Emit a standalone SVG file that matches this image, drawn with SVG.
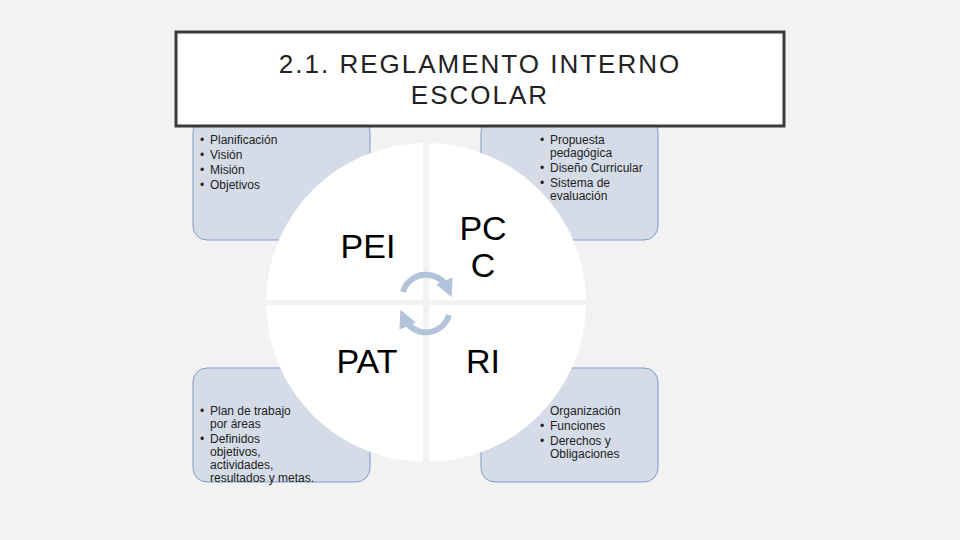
<svg xmlns="http://www.w3.org/2000/svg" width="960" height="540" viewBox="0 0 960 540">
<style>
.box{fill:#d5dce8;stroke:#7f9cc4;stroke-width:1}
.t{font-family:"Liberation Sans",Arial,sans-serif;font-size:12px;fill:#222}
.big{font-family:"Liberation Sans",Arial,sans-serif;font-size:34px;fill:#000}
.q{fill:#fff}
.arc{fill:none;stroke:#b4c3dc;stroke-width:6}
</style>
<defs><marker id="ah" viewBox="0 0 10 10" refX="5" refY="5" markerWidth="3" markerHeight="3" orient="auto"><path d="M0,0L10,5L0,10z" fill="#b4c3dc"/></marker></defs>
<rect width="960" height="540" fill="#f2f2f2"/>
<g id="box-pei"><rect class="box" x="193" y="118" width="177" height="122" rx="14"/>
<text class="t"><tspan x="200" y="144">•</tspan><tspan x="210" y="144">Planificación</tspan><tspan x="200" y="159">•</tspan><tspan x="210" y="159">Visión</tspan><tspan x="200" y="174">•</tspan><tspan x="210" y="174">Misión</tspan><tspan x="200" y="189">•</tspan><tspan x="210" y="189">Objetivos</tspan></text></g>
<g id="box-pcc"><rect class="box" x="481" y="118" width="177" height="122" rx="14"/>
<text class="t"><tspan x="540" y="144">•</tspan><tspan x="550" y="144">Propuesta</tspan><tspan x="550" y="157">pedagógica</tspan><tspan x="540" y="172">•</tspan><tspan x="550" y="172">Diseño Curricular</tspan><tspan x="540" y="187">•</tspan><tspan x="550" y="187">Sistema de</tspan><tspan x="550" y="200">evaluación</tspan></text></g>
<g id="box-pat"><rect class="box" x="193" y="368" width="177" height="114" rx="14"/>
<text class="t"><tspan x="200" y="415">•</tspan><tspan x="210" y="415">Plan de trabajo</tspan><tspan x="210" y="428">por áreas</tspan><tspan x="200" y="443">•</tspan><tspan x="210" y="443">Definidos</tspan><tspan x="210" y="456">objetivos,</tspan><tspan x="210" y="469">actividades,</tspan><tspan x="210" y="482">resultados y metas.</tspan></text></g>
<g id="box-ri"><rect class="box" x="481" y="368" width="177" height="114" rx="14"/>
<text class="t"><tspan x="550" y="415">Organización</tspan><tspan x="540" y="430">•</tspan><tspan x="550" y="430">Funciones</tspan><tspan x="540" y="445">•</tspan><tspan x="550" y="445">Derechos y</tspan><tspan x="550" y="458">Obligaciones</tspan></text></g>
<g id="circle">
<path class="q" d="M423,300 L423,143 A160,160 0 0 0 266,300 Z"/>
<path class="q" d="M429,300 L429,143 A160,160 0 0 1 586,300 Z"/>
<path class="q" d="M423,305 L266,305 A160,160 0 0 0 423,462 Z"/>
<path class="q" d="M429,305 L586,305 A160,160 0 0 1 429,462 Z"/>
</g>
<g id="labels">
<text class="big" x="368" y="258" text-anchor="middle">PEI</text>
<text class="big" x="483" y="240" text-anchor="middle">PC</text>
<text class="big" x="483" y="277" text-anchor="middle">C</text>
<text class="big" x="367" y="373" text-anchor="middle">PAT</text>
<text class="big" x="483" y="373" text-anchor="middle">RI</text>
</g>
<g id="connectors">
<path class="arc" d="M403,292 A24,24 0 0 1 448,289" marker-end="url(#ah)"/>
<path class="arc" d="M449,315 A24,24 0 0 1 404,318" marker-end="url(#ah)"/>
</g>
<g id="title"><rect x="176" y="32" width="608" height="94" fill="#fff" stroke="#3a3a3a" stroke-width="3"/>
<text x="480" y="73" text-anchor="middle" font-family="Liberation Sans,Arial,sans-serif" font-size="26" letter-spacing="2" fill="#222">2.1. REGLAMENTO INTERNO</text>
<text x="480" y="104" text-anchor="middle" font-family="Liberation Sans,Arial,sans-serif" font-size="26" letter-spacing="2" fill="#222">ESCOLAR</text></g>
</svg>
